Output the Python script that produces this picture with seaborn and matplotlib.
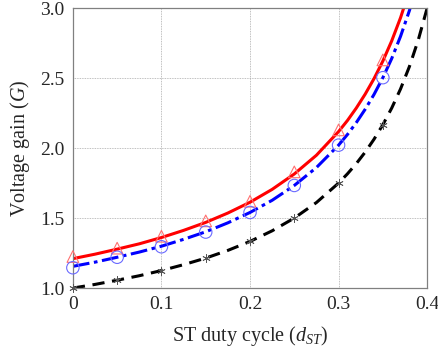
import matplotlib
matplotlib.use("Agg")
import matplotlib.pyplot as plt
import seaborn as sns
import pandas as pd

# data
duty = [0.0, 0.025, 0.05, 0.075, 0.1, 0.125, 0.15, 0.175, 0.2, 0.225, 0.25, 0.275,
        0.3, 0.31, 0.32, 0.33, 0.34, 0.35, 0.36, 0.37, 0.38, 0.39, 0.40]
g_black = [1.000, 1.026, 1.056, 1.088, 1.125, 1.167, 1.214, 1.269, 1.333, 1.409, 1.500, 1.611,
           1.750, 1.816, 1.889, 1.971, 2.063, 2.167, 2.286, 2.423, 2.583, 2.773, 3.000]
g_red = [1.210, 1.242, 1.278, 1.316, 1.361, 1.412, 1.469, 1.536, 1.613, 1.705, 1.815, 1.949,
         2.118, 2.197, 2.286, 2.385, 2.496, 2.622, 2.766, 2.932, 3.126]
g_blue = [1.155, 1.185, 1.220, 1.257, 1.299, 1.348, 1.402, 1.466, 1.540, 1.627, 1.733, 1.861,
          2.021, 2.097, 2.182, 2.277, 2.383, 2.503, 2.640, 2.799, 2.983, 3.203]

mark_d = [0.0, 0.05, 0.1, 0.15, 0.2, 0.25, 0.3, 0.35]
mark_black = [1.000, 1.056, 1.125, 1.214, 1.333, 1.500, 1.750, 2.167]
mark_red = [1.225, 1.285, 1.370, 1.480, 1.620, 1.830, 2.130, 2.630]
mark_blue = [1.145, 1.220, 1.295, 1.400, 1.540, 1.733, 2.021, 2.503]

xticks = [0, 0.1, 0.2, 0.3, 0.4]
xtick_labels = ["0", "0.1", "0.2", "0.3", "0.4"]
yticks = [1.0, 1.5, 2.0, 2.5, 3.0]
ytick_labels = ["1.0", "1.5", "2.0", "2.5", "3.0"]

sns.set_style("white")
plt.rcParams['font.family'] = ['Liberation Serif', 'DejaVu Serif']
plt.rcParams['mathtext.fontset'] = 'custom'
plt.rcParams['mathtext.rm'] = 'Liberation Serif'
plt.rcParams['mathtext.it'] = 'Liberation Serif:italic'

fig = plt.figure(figsize=(4.39, 3.53), dpi=100)
ax = fig.add_axes([0.166, 0.184, 0.807, 0.793])

df_b = pd.DataFrame({"d": duty, "G": g_black})
df_r = pd.DataFrame({"d": duty[:len(g_red)], "G": g_red})
df_u = pd.DataFrame({"d": duty[:len(g_blue)], "G": g_blue})

sns.lineplot(data=df_b, x="d", y="G", ax=ax, color="black", lw=2.2,
             linestyle=(0, (4, 2.5)), sort=False)
sns.lineplot(data=df_u, x="d", y="G", ax=ax, color="#0000ff", lw=2.2,
             linestyle=(0, (5.5, 1.5, 1.2, 1.5)), sort=False)
sns.lineplot(data=df_r, x="d", y="G", ax=ax, color="#ff0000", lw=2.2, sort=False)

ax.scatter(mark_d, mark_red, marker="^", s=70, facecolors="none",
           edgecolors="#ff7070", linewidths=0.8, zorder=5, clip_on=False)
ax.scatter(mark_d, mark_blue, marker="o", s=80, facecolors="none",
           edgecolors="#6a6aff", linewidths=0.8, zorder=5, clip_on=False)
ax.scatter(mark_d, mark_black, marker=(6, 2, 0), s=30,
           color="#555555", linewidths=0.6, zorder=5, clip_on=False)

ax.set_xlim(0, 0.4)
ax.set_ylim(1.0, 3.0)
ax.set_xticks(xticks)
ax.set_xticklabels(xtick_labels)
ax.set_yticks(yticks)
ax.set_yticklabels(ytick_labels)
ax.tick_params(labelsize=14, length=0, pad=6)
ax.grid(True, linestyle=(0, (1, 1)), color="#aaaaaa", lw=0.6)
for s in ax.spines.values():
    s.set_color("#808080")
    s.set_linewidth(0.9)
ax.set_xlabel("ST duty cycle ($d_{ST}$)", fontsize=14.5, labelpad=8)
ax.set_ylabel("Voltage gain ($G$)", fontsize=14.5, labelpad=6)

fig.savefig("out.png", dpi=100)
